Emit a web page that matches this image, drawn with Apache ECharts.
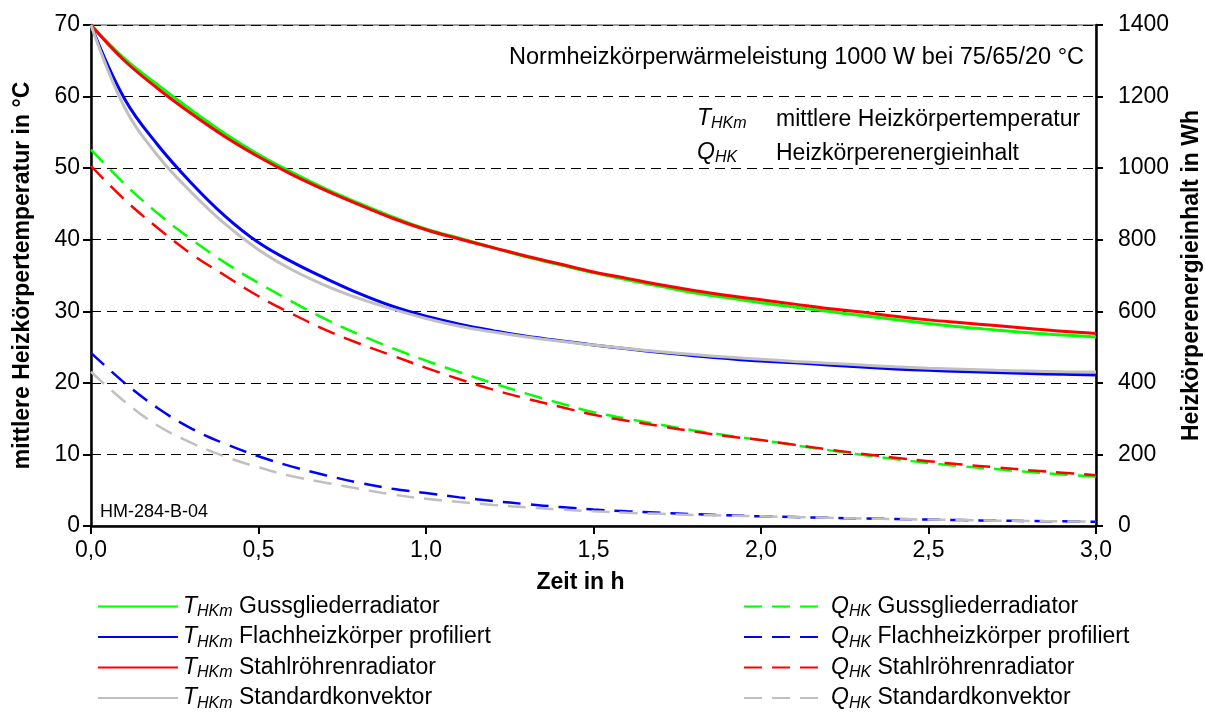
<!DOCTYPE html>
<html>
<head>
<meta charset="utf-8">
<script src="https://cdn.jsdelivr.net/npm/echarts@6/dist/echarts.min.js"></script>
<style>
  html, body { margin: 0; padding: 0; background: #fff; }
  #main { width: 1205px; height: 712px; }
</style>
</head>
<body>
<div id="main"></div>
<script>
// Zeit in h
var zeit = [0, 0.1, 0.2, 0.3, 0.4, 0.5, 0.6, 0.7, 0.8, 0.9, 1.0, 1.1, 1.2, 1.3, 1.4, 1.5,
            1.6, 1.7, 1.8, 1.9, 2.0, 2.1, 2.2, 2.3, 2.4, 2.5, 2.6, 2.7, 2.8, 2.9, 3.0];

// mittlere Heizkörpertemperatur in °C
var tGuss   = [70, 65.3, 61.6, 58.1, 54.8, 51.9, 49.4, 47.1, 45.1, 43.2, 41.5, 40.2, 38.9, 37.6, 36.5, 35.4,
               34.4, 33.5, 32.6, 31.9, 31.2, 30.6, 30.0, 29.4, 28.85, 28.3, 27.8, 27.4, 27.0, 26.7, 26.4];
var tFlach  = [70, 59.7, 53.2, 47.9, 43.3, 39.6, 36.9, 34.6, 32.5, 30.7, 29.3, 28.2, 27.3, 26.5, 25.9, 25.3,
               24.75, 24.25, 23.8, 23.4, 23.05, 22.8, 22.5, 22.2, 21.95, 21.75, 21.6, 21.45, 21.3, 21.2, 21.1];
var tStahl  = [70, 65.0, 61.1, 57.6, 54.4, 51.6, 49.1, 46.9, 44.9, 43.0, 41.4, 40.1, 38.9, 37.7, 36.6, 35.5,
               34.6, 33.7, 32.9, 32.2, 31.6, 31.0, 30.4, 29.9, 29.3, 28.8, 28.4, 28.0, 27.6, 27.2, 26.9];
var tKonv   = [70, 58.5, 51.7, 46.6, 42.2, 38.6, 35.8, 33.6, 31.8, 30.3, 29.0, 27.9, 27.1, 26.4, 25.8, 25.3,
               24.8, 24.35, 23.95, 23.6, 23.3, 23.0, 22.75, 22.5, 22.25, 22.05, 21.9, 21.75, 21.65, 21.55, 21.5];

// Heizkörperenergieinhalt in Wh
var qGuss   = [1052, 956, 873, 801, 736, 679, 627, 578, 535, 497, 462, 430, 399, 370, 343, 318,
               300, 283, 267, 253, 240, 226, 212, 199, 187, 176, 167, 159, 151, 144, 138];
var qFlach  = [484, 400, 329, 272, 230, 195, 166, 142, 121, 104, 92, 80, 70, 61, 53, 46,
               41, 37, 33, 30, 27, 25, 23, 21, 19.5, 18, 16.5, 15, 14, 13, 12];
var qStahl  = [1006, 912, 832, 760, 700, 642, 593, 548, 510, 476, 442, 410, 381, 356, 333, 311,
               294, 279, 264, 251, 240, 227, 214, 202, 191, 181, 172, 164, 156, 149, 142];
var qKonv   = [431, 348, 280, 232, 194, 164, 139, 121, 104, 88, 76, 67, 59, 52, 46, 41,
               37, 34, 31, 29, 27, 25, 23, 21, 19.5, 18, 16.5, 15, 14, 13, 12];

var FONT = '"Liberation Sans", Arial, sans-serif';

var richSub = {
  sym: { fontFamily: FONT, fontSize: 23, fontStyle: 'italic', color: '#000', lineHeight: 27 },
  sub: { fontFamily: FONT, fontSize: 16, fontStyle: 'italic', color: '#000', lineHeight: 12, verticalAlign: 'bottom' },
  txt: { fontFamily: FONT, fontSize: 23, color: '#000', lineHeight: 27 }
};

var namen = {
  tGuss:  ['T', 'HKm', 'Gussgliederradiator'],
  tFlach: ['T', 'HKm', 'Flachheizkörper profiliert'],
  tStahl: ['T', 'HKm', 'Stahlröhrenradiator'],
  tKonv:  ['T', 'HKm', 'Standardkonvektor'],
  qGuss:  ['Q', 'HK', 'Gussgliederradiator'],
  qFlach: ['Q', 'HK', 'Flachheizkörper profiliert'],
  qStahl: ['Q', 'HK', 'Stahlröhrenradiator'],
  qKonv:  ['Q', 'HK', 'Standardkonvektor']
};

function pairs(ys) {
  return zeit.map(function (x, i) { return [x, ys[i]]; });
}

function serie(name, ys, color, dashed) {
  return {
    name: name,
    type: 'line',
    yAxisIndex: dashed ? 1 : 0,
    data: pairs(ys),
    smooth: 0.4,
    symbol: 'none',
    lineStyle: { color: color, width: dashed ? 2.5 : 3, type: dashed ? [18, 10] : 'solid' },
    itemStyle: { color: color },
    z: dashed ? 3 : 4
  };
}

function legendFmt(name) {
  var n = namen[name];
  return '{sym|' + n[0] + '}{sub|' + n[1] + '}{txt| ' + n[2] + '}';
}

var chart = echarts.init(document.getElementById('main'));

var axisFont = { fontFamily: FONT, fontSize: 23, color: '#000' };
var nameFont = { fontFamily: FONT, fontSize: 23, fontWeight: 'bold', color: '#000' };

var option = {
  animation: false,
  backgroundColor: '#fff',
  textStyle: { fontFamily: FONT },
  grid: {
    left: 91, right: 109, top: 25, bottom: 186,
    outerBoundsMode: 'none', containLabel: false,
    show: true, borderColor: '#444', borderWidth: 1
  },
  xAxis: {
    type: 'value', min: 0, max: 3, interval: 0.5,
    name: 'Zeit in h', nameLocation: 'middle', nameGap: 45,
    nameTextStyle: Object.assign({ padding: [0, 26, 0, 0] }, nameFont),
    axisLine: { lineStyle: { color: '#000', width: 2.5 } },
    axisTick: { length: 8, lineStyle: { color: '#000', width: 2 } },
    axisLabel: Object.assign({ margin: 13, formatter: function (v) { return v.toFixed(1).replace('.', ','); } }, axisFont),
    splitLine: { show: false }
  },
  yAxis: [
    {
      type: 'value', min: 0, max: 70, interval: 10,
      name: 'mittlere Heizkörpertemperatur in °C', nameLocation: 'middle', nameGap: 57, nameRotate: 90,
      nameTextStyle: nameFont,
      axisLine: { show: true, lineStyle: { color: '#000', width: 2.5 } },
      axisTick: { show: true, length: 8, lineStyle: { color: '#000', width: 2 } },
      axisLabel: Object.assign({ margin: 11 }, axisFont),
      splitLine: { show: true, lineStyle: { color: '#000', width: 1, type: [10, 6] } }
    },
    {
      type: 'value', min: 0, max: 1400, interval: 200, position: 'right',
      name: 'Heizkörperenergieinhalt in Wh', nameLocation: 'middle', nameGap: 79, nameRotate: 90,
      nameTextStyle: nameFont,
      axisLine: { show: true, lineStyle: { color: '#000', width: 2.5 } },
      axisTick: { show: true, length: 7, lineStyle: { color: '#000', width: 2 } },
      axisLabel: Object.assign({ margin: 22, formatter: function (v) { return String(v); } }, axisFont),
      splitLine: { show: false }
    }
  ],
  legend: [
    {
      orient: 'vertical', left: 97, top: 595, height: 130, padding: 0,
      itemWidth: 80, itemHeight: 14, itemGap: 5.5,
      data: ['tGuss', 'tFlach', 'tStahl', 'tKonv'],
      formatter: legendFmt,
      itemStyle: { opacity: 0 },
      textStyle: { rich: richSub }
    },
    {
      orient: 'vertical', left: 743, top: 595, height: 130, padding: 0,
      itemWidth: 74, itemHeight: 14, itemGap: 5.5,
      data: ['qGuss', 'qFlach', 'qStahl', 'qKonv'],
      formatter: legendFmt,
      itemStyle: { opacity: 0 },
      textStyle: { rich: richSub, padding: [0, 0, 0, 8] }
    }
  ],
  graphic: [
    { type: 'text', right: 121, top: 46,
      style: { text: 'Normheizkörperwärmeleistung 1000 W bei 75/65/20 °C', font: '23.5px ' + FONT, fill: '#000' } },
    { type: 'text', left: 697, top: 107,
      style: { text: '{sym|T}{sub|HKm}', rich: richSub } },
    { type: 'text', left: 776, top: 108,
      style: { text: 'mittlere Heizkörpertemperatur', font: '23px ' + FONT, fill: '#000' } },
    { type: 'text', left: 697, top: 141,
      style: { text: '{sym|Q}{sub|HK}', rich: richSub } },
    { type: 'text', left: 776, top: 142,
      style: { text: 'Heizkörperenergieinhalt', font: '23px ' + FONT, fill: '#000' } },
    { type: 'text', left: 100, top: 503,
      style: { text: 'HM-284-B-04', font: '18px ' + FONT, fill: '#000' } }
  ],
  series: [
    serie('tGuss', tGuss, '#00ff00', false),
    serie('tFlach', tFlach, '#0000ff', false),
    serie('tStahl', tStahl, '#ff0000', false),
    serie('tKonv', tKonv, '#c0c0c0', false),
    serie('qGuss', qGuss, '#00ff00', true),
    serie('qFlach', qFlach, '#0000ff', true),
    serie('qStahl', qStahl, '#ff0000', true),
    serie('qKonv', qKonv, '#c0c0c0', true)
  ]
};

chart.setOption(option);
</script>
</body>
</html>
